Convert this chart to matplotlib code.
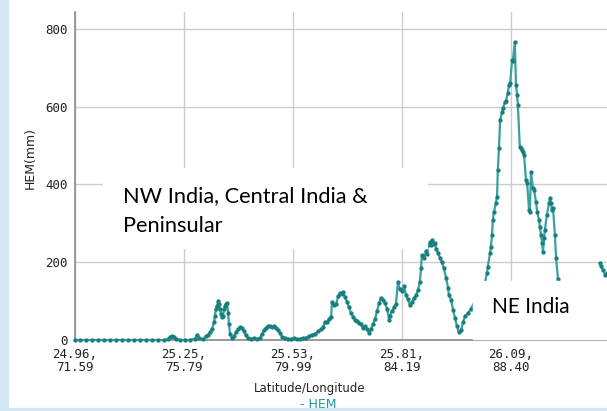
import matplotlib.pyplot as plt
from matplotlib.patches import Rectangle
import numpy as np

# latitude along the transect and HEM (mm)
lat = [24.960, 24.973, 24.989, 25.004, 25.020, 25.035, 25.051, 25.066, 25.082, 25.097,
       25.113, 25.128, 25.144, 25.160, 25.175, 25.191, 25.201, 25.206, 25.211, 25.217,
       25.222, 25.232, 25.245, 25.258, 25.271, 25.276, 25.281, 25.292, 25.300, 25.305,
       25.310, 25.315, 25.320, 25.323, 25.325, 25.328, 25.331, 25.333, 25.336, 25.338,
       25.341, 25.344, 25.346, 25.349, 25.351, 25.354, 25.357, 25.359, 25.362, 25.367,
       25.372, 25.377, 25.382, 25.388, 25.393, 25.398, 25.403, 25.408, 25.416, 25.424,
       25.432, 25.440, 25.445, 25.450, 25.455, 25.460, 25.465, 25.471, 25.476, 25.481,
       25.486, 25.491, 25.497, 25.504, 25.512, 25.520, 25.528, 25.535, 25.543, 25.551,
       25.559, 25.567, 25.574, 25.582, 25.590, 25.598, 25.603, 25.608, 25.613, 25.618,
       25.624, 25.626, 25.631, 25.637, 25.642, 25.647, 25.652, 25.655, 25.660, 25.665,
       25.670, 25.675, 25.681, 25.686, 25.691, 25.696, 25.701, 25.706, 25.712, 25.717,
       25.722, 25.727, 25.732, 25.738, 25.743, 25.748, 25.753, 25.758, 25.764, 25.769,
       25.774, 25.776, 25.782, 25.787, 25.792, 25.797, 25.802, 25.808, 25.813, 25.818,
       25.823, 25.828, 25.834, 25.839, 25.844, 25.849, 25.854, 25.857, 25.859, 25.865,
       25.870, 25.872, 25.875, 25.880, 25.883, 25.885, 25.891, 25.893, 25.896, 25.901,
       25.906, 25.911, 25.916, 25.922, 25.927, 25.929, 25.935, 25.940, 25.945, 25.950,
       25.955, 25.961, 25.966, 25.971, 25.979, 25.986, 26.023, 26.028, 26.030, 26.036,
       26.038, 26.041, 26.043, 26.046, 26.051, 26.054, 26.056, 26.059, 26.062, 26.067,
       26.069, 26.075, 26.077, 26.082, 26.085, 26.088, 26.093, 26.095, 26.100, 26.103,
       26.106, 26.108, 26.113, 26.116, 26.119, 26.121, 26.124, 26.129, 26.132, 26.137,
       26.139, 26.142, 26.147, 26.150, 26.155, 26.158, 26.163, 26.165, 26.168, 26.171,
       26.173, 26.176, 26.178, 26.183, 26.189, 26.191, 26.194, 26.196, 26.199, 26.204,
       26.207, 26.212, 26.260, 26.321, 26.323, 26.329, 26.334, 26.339]
hem = [0, 0, 0, 0, 0, 0, 0, 0, 0, 0,
       0, 0, 0, 0, 0, 0, 2, 8, 10, 8,
       2, 0, 0, 0, 3, 14, 4, 2, 10, 14,
       20, 28, 45, 62, 80, 88, 100, 92, 80, 68,
       58, 62, 80, 88, 92, 95, 70, 40, 15, 5,
       10, 20, 28, 33, 30, 22, 12, 5, 3, 4,
       2, 6, 15, 25, 32, 35, 36, 34, 35, 30,
       25, 18, 8, 5, 3, 2, 5, 2, 3, 5,
       6, 10, 14, 16, 22, 28, 33, 47, 45, 55,
       60, 98, 90, 92, 113, 121, 118, 123, 110, 98,
       85, 70, 60, 52, 50, 44, 40, 31, 35, 28,
       18, 28, 40, 55, 75, 95, 108, 104, 95, 80,
       51, 62, 75, 85, 92, 149, 130, 125, 138, 115,
       105, 90, 97, 108, 115, 128, 150, 185, 218, 210,
       228, 222, 244, 252, 245, 257, 247, 250, 234, 224,
       211, 200, 185, 159, 134, 116, 103, 77, 57, 36,
       20, 26, 46, 62, 69, 80, 150, 172, 188, 224,
       239, 270, 308, 329, 352, 368, 437, 494, 565, 586,
       596, 612, 615, 635, 656, 660, 720, 718, 766, 656,
       630, 604, 496, 494, 488, 483, 476, 411, 403, 334,
       330, 432, 391, 386, 355, 329, 308, 290, 270, 249,
       226, 262, 283, 321, 352, 365, 352, 334, 340, 270,
       211, 157, np.nan, 198, 190, 180, 167, 172]

tick_pos = [24.96, 25.2425, 25.525, 25.8075, 26.09]
tick_labels = ['24.96,\n71.59', '25.25,\n75.79', '25.53,\n79.99', '25.81,\n84.19', '26.09,\n88.40']
y_ticks = [0, 200, 400, 600, 800]

W, H = 607, 411
fig = plt.figure(figsize=(W / 100, H / 100), dpi=100)
ax = fig.add_axes([75 / W, 1 - 340 / H, 1 - 75 / W, 328 / H])

ax.plot(lat, hem, color='#3a9f9f', lw=1.6, marker='o', ms=2.1,
        mfc='#17807f', mec='#17807f', clip_on=False, zorder=3)

ax.set_xlim(24.96, 26.339)
ax.set_ylim(0, 843)
ax.set_xticks(tick_pos)
ax.set_xticklabels(tick_labels, family='DejaVu Sans Mono', fontsize=9, color='#222222',
                   linespacing=1.0)
ax.set_yticks(y_ticks)
ax.set_yticklabels([str(v) for v in y_ticks], family='DejaVu Sans Mono', fontsize=9,
                   color='#222222')
ax.tick_params(length=0)
ax.tick_params(axis='x', pad=6)
ax.tick_params(axis='y', pad=5)
ax.grid(True, color='#cccccc', lw=1)
ax.set_axisbelow(True)
for side in ['top', 'right']:
    ax.spines[side].set_visible(False)
for side in ['left', 'bottom']:
    ax.spines[side].set_color('#8a8a8a')
    ax.spines[side].set_linewidth(1.2)

fig.text(30 / W, 1 - 158 / H, 'HEM(mm)', rotation=90, ha='center', va='center',
         fontsize=9, color='#222222')
fig.text(310 / W, 1 - 388 / H, 'Latitude/Longitude', ha='center', va='center',
         fontsize=8.5, color='#222222')
fig.text(318 / W, 1 - 404 / H, '- HEM', ha='center', va='center',
         fontsize=9, color='#1a9a9a')

# white callout boxes covering part of the chart
fig.add_artist(Rectangle((103 / W, 1 - 248 / H), 324 / W, 80 / H,
                         transform=fig.transFigure, color='white', zorder=5))
fig.add_artist(Rectangle((473 / W, 1 - 338.5 / H), 134 / W, 57.5 / H,
                         transform=fig.transFigure, color='white', zorder=5))
fig.text(123 / W, 1 - 202 / H, 'NW India, Central India &', fontsize=15.7,
         family='Lato', color='black', zorder=6)
fig.text(123 / W, 1 - 232 / H, 'Peninsular', fontsize=15.7,
         family='Lato', color='black', zorder=6)
fig.text(492 / W, 1 - 313 / H, 'NE India', fontsize=15,
         family='Lato', color='black', zorder=6)

# slide background strips
fig.add_artist(Rectangle((0, 0), 8 / W, 1, transform=fig.transFigure,
                         color='#d3e9f7', zorder=7))
fig.add_artist(Rectangle((0, 0), 1, 3 / H, transform=fig.transFigure,
                         color='#d3e6f5', zorder=7))

fig.savefig('out.png', dpi=100)
